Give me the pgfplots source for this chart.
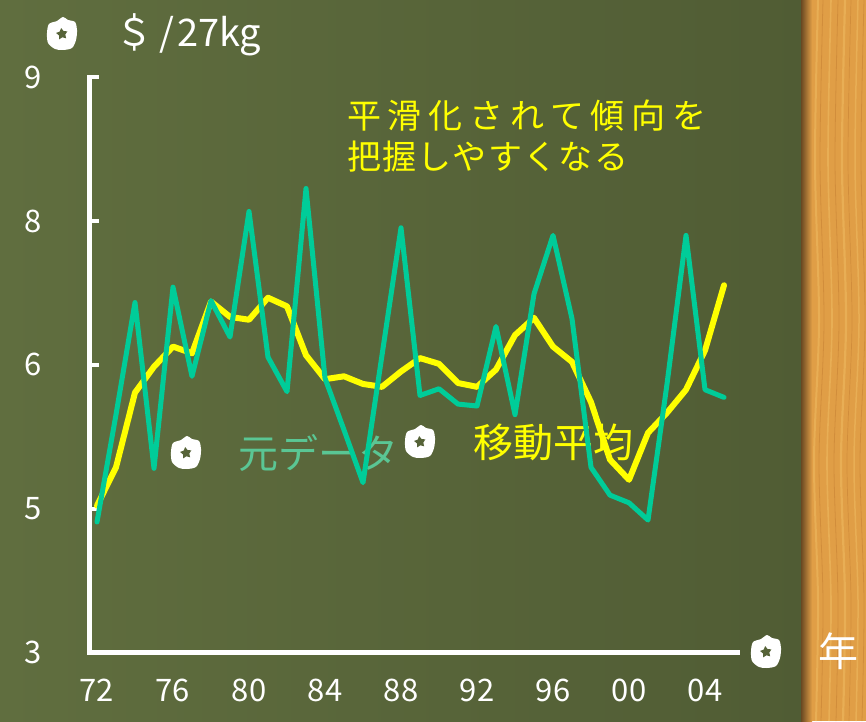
\documentclass[border=0pt]{standalone}
\usepackage{fontspec}
\setmainfont{Noto Sans CJK JP}
\usepackage{pgfplots}
\usepackage{pgfplotstable}
\pgfplotsset{compat=1.18}
\usetikzlibrary{shapes.geometric}

\definecolor{boardL}{RGB}{96,110,63}
\definecolor{boardR}{RGB}{80,92,52}
\definecolor{board}{RGB}{86,99,56}
\definecolor{rawgreen}{RGB}{0,204,153}
\definecolor{avgyellow}{RGB}{255,255,0}
\definecolor{labgreen}{RGB}{90,198,148}
\definecolor{wood}{RGB}{224,158,70}
\definecolor{woodLight}{RGB}{240,190,100}
\definecolor{woodDark}{RGB}{196,126,50}
\definecolor{woodEdge}{RGB}{105,72,34}

% yearly price and its moving average (USD per 27 kg)
\pgfplotstableread{
year raw  avg
1972 4.36 4.53
1973 5.48 4.93
1974 6.65 5.71
1975 4.92 5.98
1976 6.81 6.19
1977 5.88 6.12
1978 6.67 6.66
1979 6.29 6.50
1980 7.60 6.47
1981 6.08 6.70
1982 5.72 6.61
1983 7.84 6.10
1984 5.86 5.85
1985 5.32 5.88
1986 4.77 5.80
1987 6.10 5.77
1988 7.43 5.93
1989 5.68 6.07
1990 5.75 6.01
1991 5.59 5.81
1992 5.57 5.77
1993 6.40 5.95
1994 5.48 6.31
1995 6.74 6.49
1996 7.35 6.19
1997 6.48 6.03
1998 4.93 5.61
1999 4.64 5.01
2000 4.56 4.80
2001 4.38 5.29
2002 5.80 5.50
2003 7.35 5.74
2004 5.74 6.15
2005 5.66 6.83
}\pricetable

% chalk magnet
\tikzset{magnet/.pic={
  \fill[white] plot[smooth cycle] coordinates {(1pt,17pt)(6pt,14pt)(13pt,12pt)(15pt,4pt)(14pt,-6pt)(10pt,-14pt)(1pt,-16pt)(-7pt,-15pt)(-14pt,-9pt)(-15pt,1pt)(-13pt,10pt)(-5pt,13pt)};
  \node[star, star points=5, star point ratio=1.8, fill=board, minimum size=12pt, inner sep=0pt, rotate=8] {};
}}

\begin{document}
\begin{tikzpicture}
% board and frame
\shade[left color=boardL, right color=boardR] (0pt,0pt) rectangle (806pt,721pt);
\fill[wood] (806pt,0pt) rectangle (866pt,721pt);
\foreach \x/\c/\w in {816/woodLight/2, 821/woodDark/0.8, 829/woodLight/1.6, 836/woodDark/0.8, 843/woodLight/2.2, 849/woodDark/0.7, 856/woodLight/1.5, 862/woodDark/0.8}{
  \draw[\c, line width=\w pt, opacity=0.5] plot[smooth] coordinates {(\x pt,0pt)(\x pt+2pt,120pt)(\x pt-2pt,260pt)(\x pt+3pt,400pt)(\x pt-1pt,560pt)(\x pt+2pt,721pt)};
}
\shade[left color=woodEdge, right color=wood] (801pt,0pt) rectangle (812pt,721pt);

% annotations
\node[anchor=base west, inner sep=0pt, text=white, font=\fontsize{38}{42}\selectfont] at (115pt,674pt) {＄\kern6pt/\kern3pt27kg};
\node[anchor=base west, inner sep=0pt, text=avgyellow, font=\fontsize{34}{40}\selectfont] at (347pt,592.5pt) {\addfontfeatures{LetterSpace=20}平滑化されて傾向を};
\node[anchor=base west, inner sep=0pt, text=avgyellow, font=\fontsize{34}{40}\selectfont] at (347pt,551.5pt) {\addfontfeatures{LetterSpace=4}把握しやすくなる};
\node[inner sep=0pt, text=labgreen, font=\fontsize{40}{46}\selectfont] at (318pt,268pt) {元データ};
\node[inner sep=0pt, text=avgyellow, font=\fontsize{40}{46}\selectfont] at (553pt,279pt) {移動平均};
\node[inner sep=0pt, text=white, font=\fontsize{40}{46}\selectfont] at (838pt,70pt) {年};

\begin{axis}[
  at={(89.3pt,68.7pt)}, anchor=south west,
  scale only axis, width=648.2pt, height=575pt,
  xmin=1971.595, xmax=2005.71, ymin=3, ymax=9,
  axis x line=bottom, axis y line=left,
  axis line style={white, line width=5pt, line cap=rect, -},
  xtick={1972,1976,...,2004},
  xticklabels={72,76,80,84,88,92,96,00,04},
  ytick={3,4.5,6,7.5,9},
  yticklabels={3,5,6,8,9},
  x tick style={draw=none},
  y tick style={white, line width=4pt},
  tick align=inside, major tick length=10pt,
  tick label style={white, font=\fontsize{31}{36}\selectfont},
  xticklabel style={anchor=center, yshift=-37.7pt},
  yticklabel style={anchor=center, xshift=-56.3pt},
  clip=false,
]
\addplot[avgyellow, line width=6pt, line join=round, line cap=round] table[x=year, y=avg] {\pricetable};
\addplot[rawgreen, line width=5pt, line join=round, line cap=round] table[x=year, y=raw] {\pricetable};
\end{axis}

% magnets
\pic at (62pt,687pt) {magnet};
\pic at (186pt,268pt) {magnet};
\pic at (420pt,279pt) {magnet};
\pic at (766pt,69pt) {magnet};

\pgfresetboundingbox
\useasboundingbox (0pt,0pt) rectangle (866pt,721pt);
\end{tikzpicture}
\end{document}
